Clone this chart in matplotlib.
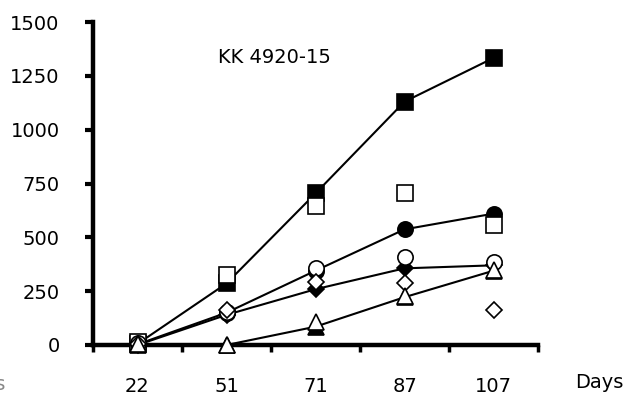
import matplotlib
matplotlib.use("Agg")
import matplotlib.pyplot as plt
import numpy as np

days = ["22", "51", "71", "87", "107"]
y_ticks = [0, 250, 500, 750, 1000, 1250, 1500]

filled_square = [5, 286, 704, 1130, 1333]
open_square = [15, 325, 645, 704, 557]
filled_circle = [3, 150, 345, 537, 610]
open_circle = [8, 155, 356, 410, 387]
filled_diamond = [0, 140, 259, 356, 370]
open_diamond = [5, 162, 294, 288, 163]
filled_triangle = [0, 0, 85, 222, 345]
open_triangle = [3, 0, 105, 226, 348]

plt.rcParams['font.family'] = ['DejaVu Sans']

fig = plt.figure(figsize=(6.37, 4.12), dpi=100)
ax = fig.add_axes([93/637, 1-345/412, (538-93)/637, (345-22)/412])

x = np.arange(len(days))
lw = 1.5
ms = 11
mew = 1.2
fs = 14

# filled series with lines
ax.plot(x, filled_square, '-s', color='black', lw=lw, ms=ms, mfc='black', mec='black', mew=mew, clip_on=False, zorder=3)
ax.plot(x, filled_circle, '-o', color='black', lw=lw, ms=ms, mfc='black', mec='black', mew=mew, clip_on=False, zorder=3)
ax.plot(x, filled_diamond, '-D', color='black', lw=lw, ms=ms*0.75, mfc='black', mec='black', mew=mew, clip_on=False, zorder=3)
ax.plot(x, filled_triangle, '-^', color='black', lw=lw, ms=ms, mfc='black', mec='black', mew=mew, clip_on=False, zorder=3)

# open series, markers only
ax.plot(x, open_square, 's', ms=ms, mfc='white', mec='black', mew=mew, clip_on=False, zorder=4)
ax.plot(x, open_circle, 'o', ms=ms, mfc='white', mec='black', mew=mew, clip_on=False, zorder=4)
ax.plot(x, open_diamond, 'D', ms=ms*0.75, mfc='white', mec='black', mew=mew, clip_on=False, zorder=4)
ax.plot(x, open_triangle, '^', ms=ms, mfc='white', mec='black', mew=mew, clip_on=False, zorder=4)

ax.set_xlim(-0.5, len(days)-0.5)
ax.set_ylim(0, 1500)
ax.set_yticks(y_ticks)
ax.set_yticklabels([str(v) for v in y_ticks], fontsize=fs)
ax.set_xticks(x)
ax.set_xticklabels(days, fontsize=fs)
ax.set_xticks(np.arange(-0.5, len(days)), minor=True)

for s in ['top', 'right']:
    ax.spines[s].set_visible(False)
for s in ['left', 'bottom']:
    ax.spines[s].set_linewidth(3.2)
    ax.spines[s].set_zorder(2)

ax.tick_params(axis='y', direction='out', length=6, width=3, pad=18)
ax.tick_params(axis='x', which='major', length=0, pad=23)
ax.tick_params(axis='x', which='minor', direction='out', length=5, width=2.5)

ax.text(0.9, 1333, "KK 4920-15", fontsize=fs, ha='left', va='center')
fig.text(575/637, 1-383/412, "Days", fontsize=fs, ha='left', va='center')
fig.text(0.008, 1-385/412, "Days", fontsize=fs, ha='right', va='center', color='#888888')

fig.savefig("out.png", dpi=100)
